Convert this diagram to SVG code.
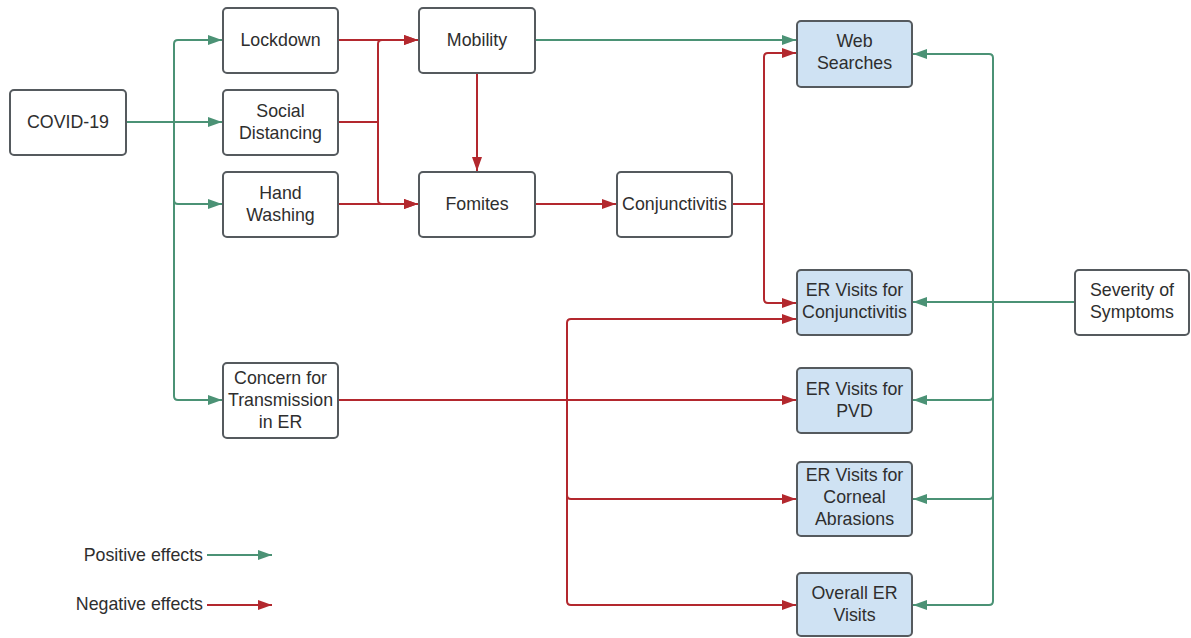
<svg xmlns="http://www.w3.org/2000/svg" width="1191" height="638" viewBox="0 0 1191 638">
<style>
.box{fill:#ffffff;stroke:#555a5e;stroke-width:2}
.out{fill:#cfe2f3;stroke:#555a5e;stroke-width:2}
text{font-family:"Liberation Sans",Arial,sans-serif;font-size:17.8px;fill:#2e2e2e;text-anchor:middle}
.pos{fill:none;stroke:#4b9275;stroke-width:2}
.neg{fill:none;stroke:#b3282e;stroke-width:2}
.pos.a{marker-end:url(#ag)}
.neg.a{marker-end:url(#ar)}
</style>
<defs>
<marker id="ag" markerUnits="userSpaceOnUse" markerWidth="16" markerHeight="12" refX="14" refY="6" orient="auto"><path d="M0,1 L14,6 L0,11 z" fill="#4b9275"/></marker>
<marker id="ar" markerUnits="userSpaceOnUse" markerWidth="16" markerHeight="12" refX="14" refY="6" orient="auto"><path d="M0,1 L14,6 L0,11 z" fill="#b3282e"/></marker>
</defs>
<rect width="1191" height="638" fill="#ffffff"/>
<g id="connectors">
<path class="pos a" d="M126,122 H174 V44 Q174,40 178,40 H222"/>
<path class="pos a" d="M126,122 H222"/>
<path class="pos a" d="M126,122 H174 V200 Q174,204 178,204 H222"/>
<path class="pos a" d="M126,122 H174 V396 Q174,400 178,400 H222"/>
<path class="neg a" d="M338,40 H418"/>
<path class="neg a" d="M338,122 H378 V44 Q378,40 382,40 H418"/>
<path class="neg a" d="M338,122 H378 V200 Q378,204 382,204 H418"/>
<path class="neg a" d="M338,204 H418"/>
<path class="neg a" d="M477,73 V171"/>
<path class="neg a" d="M535,204 H616"/>
<path class="neg a" d="M732,204 H764 V57 Q764,53 768,53 H796"/>
<path class="neg a" d="M732,204 H764 V299 Q764,303 768,303 H796"/>
<path class="neg a" d="M338,400 H796"/>
<path class="neg a" d="M338,400 H567 V323 Q567,319 571,319 H796"/>
<path class="neg a" d="M338,400 H567 V495 Q567,499 571,499 H796"/>
<path class="neg a" d="M338,400 H567 V601 Q567,605 571,605 H796"/>
<path class="pos a" d="M535,40 H796"/>
<path class="pos a" d="M1075,302 H993 V58 Q993,54 989,54 H913"/>
<path class="pos a" d="M1075,302 H913"/>
<path class="pos a" d="M1075,302 H993 V396 Q993,400 989,400 H913"/>
<path class="pos a" d="M1075,302 H993 V495 Q993,499 989,499 H913"/>
<path class="pos a" d="M1075,302 H993 V601 Q993,605 989,605 H913"/>
</g>
<g id="covid"><rect class="box" x="10" y="90" width="116" height="65" rx="4"/><text x="68" y="128">COVID-19</text></g>
<g id="lockdown"><rect class="box" x="223" y="8" width="115" height="65" rx="4"/><text x="280.5" y="46">Lockdown</text></g>
<g id="social"><rect class="box" x="223" y="90" width="115" height="65" rx="4"/><text x="280.5" y="117">Social</text><text x="280.5" y="139">Distancing</text></g>
<g id="hand"><rect class="box" x="223" y="172" width="115" height="65" rx="4"/><text x="280.5" y="199">Hand</text><text x="280.5" y="221">Washing</text></g>
<g id="concern"><rect class="box" x="223" y="363" width="115" height="75" rx="4"/><text x="280.5" y="384">Concern for</text><text x="280.5" y="406">Transmission</text><text x="280.5" y="428">in ER</text></g>
<g id="mobility"><rect class="box" x="419" y="8" width="116" height="65" rx="4"/><text x="477" y="46">Mobility</text></g>
<g id="fomites"><rect class="box" x="419" y="172" width="116" height="65" rx="4"/><text x="477" y="210">Fomites</text></g>
<g id="conjunctivitis"><rect class="box" x="617" y="172" width="115" height="65" rx="4"/><text x="674.5" y="210">Conjunctivitis</text></g>
<g id="web"><rect class="out" x="797" y="21" width="115" height="66" rx="4"/><text x="854.5" y="47">Web</text><text x="854.5" y="69">Searches</text></g>
<g id="erconj"><rect class="out" x="797" y="270" width="115" height="65" rx="4"/><text x="854.5" y="296">ER Visits for</text><text x="854.5" y="318">Conjunctivitis</text></g>
<g id="erpvd"><rect class="out" x="797" y="368" width="115" height="65" rx="4"/><text x="854.5" y="395">ER Visits for</text><text x="854.5" y="417">PVD</text></g>
<g id="ercorneal"><rect class="out" x="797" y="462" width="115" height="74" rx="4"/><text x="854.5" y="481">ER Visits for</text><text x="854.5" y="503">Corneal</text><text x="854.5" y="525">Abrasions</text></g>
<g id="eroverall"><rect class="out" x="797" y="573" width="115" height="63" rx="4"/><text x="854.5" y="599">Overall ER</text><text x="854.5" y="621">Visits</text></g>
<g id="severity"><rect class="box" x="1075" y="270" width="114" height="65" rx="4"/><text x="1132" y="296">Severity of</text><text x="1132" y="318">Symptoms</text></g>
<g id="legend">
<text x="203" y="561" style="text-anchor:end">Positive effects</text>
<path class="pos a" d="M207,555 H272"/>
<text x="203" y="610" style="text-anchor:end">Negative effects</text>
<path class="neg a" d="M207,605 H272"/>
</g>
</svg>
